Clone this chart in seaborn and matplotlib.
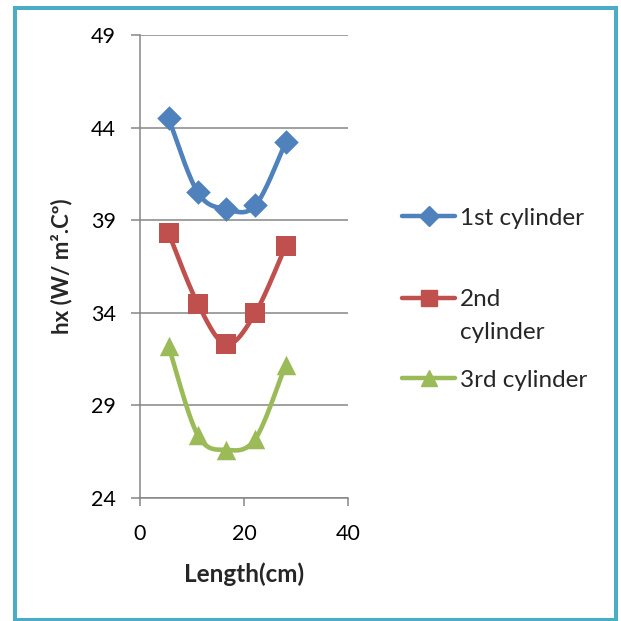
import numpy as np
import matplotlib
matplotlib.use("Agg")
import matplotlib.pyplot as plt
import seaborn as sns
from matplotlib.lines import Line2D
from matplotlib.patches import Rectangle

# Measured heat transfer coefficient along the test section
length_cm = [5.5, 11.1, 16.6, 22.2, 28.0]
cyl1 = [44.5, 40.5, 39.6, 39.8, 43.2]
cyl2 = [38.3, 34.5, 32.3, 34.0, 37.6]
cyl3 = [32.2, 27.4, 26.6, 27.2, 31.2]
series_labels = ["1st cylinder", "2nd\ncylinder", "3rd cylinder"]
y_ticks = [24, 29, 34, 39, 44, 49]
x_ticks = [0, 20, 40]

colors = ["#4F81BD", "#C0504D", "#9BBB59"]
markers = ["D", "s", "^"]
msizes = [12.5, 14, 14]
grid_gray = "#868686"

sns.set_style("white")
plt.rcParams["font.family"] = ["Lato", "DejaVu Sans"]

W = H = 621
fig = plt.figure(figsize=(W / 100, H / 100), dpi=100)
ax = fig.add_axes([140 / W, 1 - 498 / H, 208 / W, 463 / H])
ax.set_xlim(0, 40)
ax.set_ylim(24, 49)


def smooth_curve(xs, ys, n=40):
    """Catmull-Rom spline through the points, computed in display space."""
    pts = ax.transData.transform(np.column_stack([xs, ys]))
    p = np.vstack([pts[0], pts, pts[-1]])
    t = np.linspace(0, 1, n, endpoint=False)[:, None]
    segs = []
    for i in range(1, len(p) - 2):
        p0, p1, p2, p3 = p[i - 1], p[i], p[i + 1], p[i + 2]
        seg = 0.5 * (2 * p1 + (-p0 + p2) * t
                     + (2 * p0 - 5 * p1 + 4 * p2 - p3) * t ** 2
                     + (-p0 + 3 * p1 - 3 * p2 + p3) * t ** 3)
        segs.append(seg)
    segs.append(pts[-1][None, :])
    curve = ax.transData.inverted().transform(np.vstack(segs))
    return curve[:, 0], curve[:, 1]


for vals, c, m, ms in zip([cyl1, cyl2, cyl3], colors, markers, msizes):
    sx, sy = smooth_curve(length_cm, vals)
    sns.lineplot(x=sx, y=sy, sort=False, estimator=None, color=c,
                 lw=3.3, ax=ax, zorder=3)
    sns.scatterplot(x=length_cm, y=vals, marker=m, s=ms ** 2, color=c,
                    edgecolor=c, linewidth=0, ax=ax, zorder=4)

ax.set_yticks(y_ticks)
ax.set_xticks(x_ticks)
ax.set_yticklabels([str(v) for v in y_ticks])
ax.set_xticklabels([str(v) for v in x_ticks])
ax.yaxis.grid(True, color=grid_gray, lw=1.1)
ax.xaxis.grid(False)
for side in ["top", "right"]:
    ax.spines[side].set_visible(False)
for side in ["left", "bottom"]:
    ax.spines[side].set_color(grid_gray)
    ax.spines[side].set_linewidth(1.1)
ax.tick_params(axis="y", left=True, direction="out", length=6.5, width=1.1,
               color=grid_gray, pad=11, labelsize=15.5, labelcolor="black")
ax.tick_params(axis="x", bottom=True, direction="out", length=6, width=1.1,
               color=grid_gray, pad=13, labelsize=15.5, labelcolor="black")

ax.set_xlabel("Length(cm)", fontsize=17.5, fontweight="bold", labelpad=13)
ax.set_ylabel("hx (W/ m².Cº)", fontsize=16, fontweight="bold", labelpad=13)

# Legend: one entry per cylinder, stacked on the right
anchors = [(402 / W, 1 - 218 / H, "center left"),
           (402 / W, 1 - 289 / H, "upper left"),
           (402 / W, 1 - 380 / H, "center left")]
for lab, c, m, ms, (ax_x, ax_y, loc) in zip(series_labels, colors, markers,
                                             msizes, anchors):
    h = Line2D([], [], color=c, lw=3.2, marker=m, ms=ms * 0.85)
    leg = fig.legend([h], [lab], loc=loc, bbox_to_anchor=(ax_x, ax_y),
                     bbox_transform=fig.transFigure, frameon=False,
                     borderpad=0, borderaxespad=0, handlelength=2.2,
                     handletextpad=0.2, fontsize=17.5)
    for t in leg.get_texts():
        t.set_linespacing(1.7)
    if "\n" in lab:
        # keep the marker level with the first line of a wrapped label
        for column in leg.get_children()[0].get_children()[1].get_children():
            for item in column.get_children():
                item.align = "top"

# Chart border
fig.add_artist(Rectangle((14.5 / W, 1 - 619.5 / H), (615.5 - 14.5) / W,
                         (619.5 - 7.5) / H, transform=fig.transFigure,
                         fill=False, ec="#4BACC6", lw=2.9))

fig.savefig("out.png", dpi=100, facecolor="white")
